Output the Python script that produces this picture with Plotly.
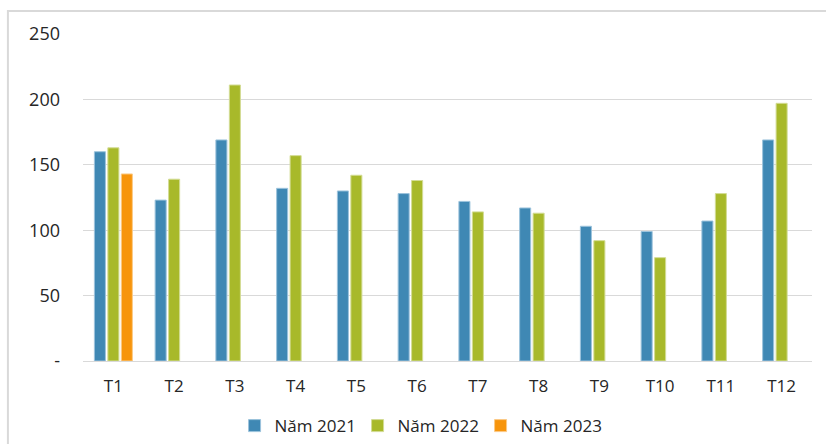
import plotly.graph_objects as go

# Monthly values per year
months = ["T1", "T2", "T3", "T4", "T5", "T6", "T7", "T8", "T9", "T10", "T11", "T12"]
y2021 = [160, 123, 169, 132, 130, 128, 122, 117, 103, 99, 107, 169]
y2022 = [163, 139, 211, 157, 142, 138, 114, 113, 92, 79, 128, 197]
y2023 = [143, None, None, None, None, None, None, None, None, None, None, None]

series_names = ["Năm 2021", "Năm 2022", "Năm 2023"]
colors = ["#3f88b4", "#a8b92a", "#f7950c"]
outlines = ["#9cc3dc", "#d3dc94", "#fbca86"]

y_tickvals = [0, 50, 100, 150, 200, 250]
y_ticktext = ["-", "50", "100", "150", "200", "250"]

fig = go.Figure()
for name, vals, col, oc in zip(series_names, [y2021, y2022, y2023], colors, outlines):
    fig.add_trace(go.Bar(
        x=months, y=vals, name=name,
        marker=dict(color=col, line=dict(color=oc, width=1)),
    ))

font_family = "Open Sans, Noto Sans, sans-serif"
fig.update_layout(
    width=826, height=444,
    margin=dict(l=83, r=14, t=34, b=83, autoexpand=False),
    paper_bgcolor="white", plot_bgcolor="white",
    barmode="group", bargap=0.335, bargroupgap=0.18,
    font=dict(family=font_family, size=17, color="#262626"),
    showlegend=True,
    legend=dict(
        orientation="h", x=0.461, xanchor="center", y=-0.199, yanchor="middle",
        font=dict(size=17, color="#262626"), itemwidth=30,
        entrywidth=78, entrywidthmode="pixels",
        traceorder="normal",
    ),
    xaxis=dict(
        showgrid=False, showline=True, linecolor="#d9d9d9", linewidth=1,
        ticks="", tickfont=dict(size=17), ticklabelstandoff=10,
    ),
    yaxis=dict(
        range=[0, 250], tickvals=y_tickvals, ticktext=y_ticktext,
        showgrid=True, gridcolor="#d9d9d9", gridwidth=1,
        zeroline=False, showline=False, ticks="",
        tickfont=dict(size=18), ticklabelstandoff=22,
    ),
    shapes=[dict(
        type="rect", xref="paper", yref="paper",
        x0=-0.103, x1=1.03, y0=-0.3, y1=1.07,
        line=dict(color="#d9d9d9", width=2), fillcolor="rgba(0,0,0,0)",
        layer="below",
    )],
)

fig.write_html("out.html")
